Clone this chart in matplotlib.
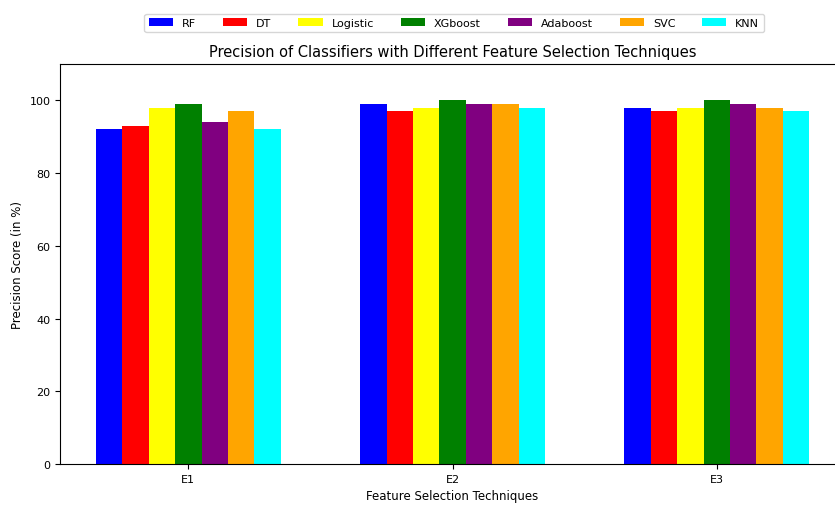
import numpy as np
import matplotlib
matplotlib.use("Agg")
from matplotlib import pyplot as plt

techniques = ["E1", "E2", "E3"]
classifiers = ["RF", "DT", "Logistic", "XGboost", "Adaboost", "SVC", "KNN"]
colors = ["blue", "red", "yellow", "green", "purple", "orange", "cyan"]
scores = {
    "RF": [92, 99, 98],
    "DT": [93, 97, 97],
    "Logistic": [98, 98, 98],
    "XGboost": [99, 100, 100],
    "Adaboost": [94, 99, 99],
    "SVC": [97, 99, 98],
    "KNN": [92, 98, 97],
}

fig = plt.figure(figsize=(8.35, 5.06), dpi=100)
ax = fig.add_axes([0.072, 0.081, 0.94, 0.7905])

x = np.arange(len(techniques))
width = 0.1
for i, name in enumerate(classifiers):
    ax.bar(x + (i - 3) * width, scores[name], width, color=colors[i], label=name)

ax.set_xticks(x)
ax.set_xticklabels(techniques, fontsize=8)
ax.tick_params(axis="y", labelsize=8)
ax.set_ylim(0, 110)
ax.set_xlabel("Feature Selection Techniques", fontsize=8.5)
ax.set_ylabel("Precision Score (in %)", fontsize=8.5)
ax.set_title("Precision of Classifiers with Different Feature Selection Techniques", fontsize=10.5)
ax.legend(ncol=7, loc="upper center", bbox_to_anchor=(0.502, 1.14), fontsize=8,
          columnspacing=2.4, handlelength=2.2, frameon=True)

fig.savefig("out.png", dpi=100)
